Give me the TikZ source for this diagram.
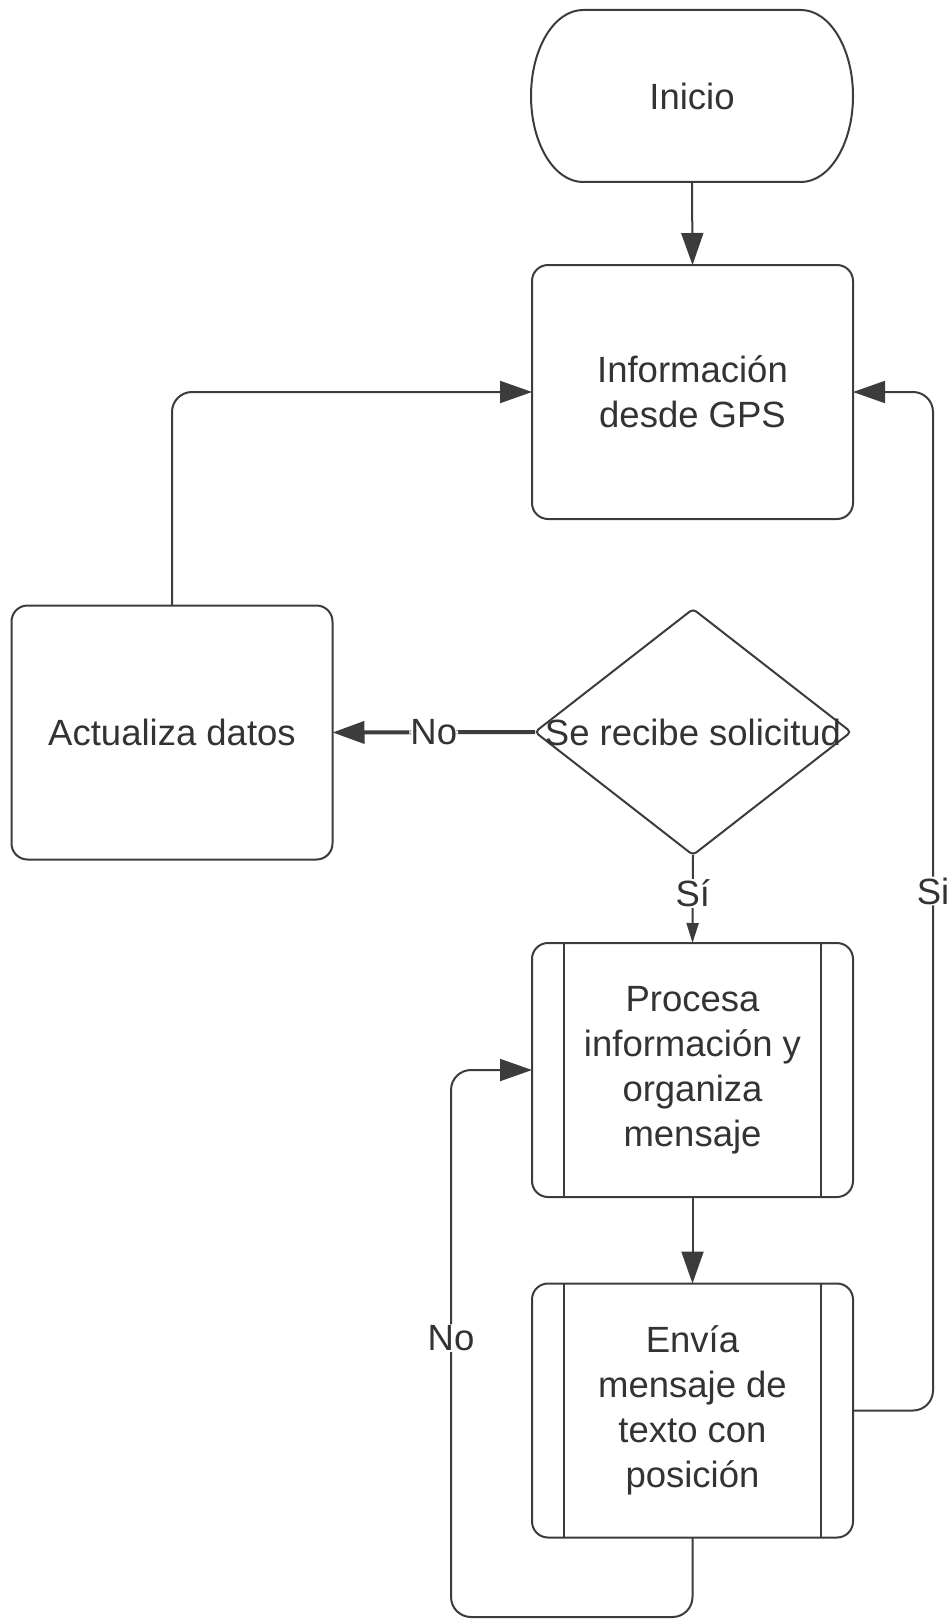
\documentclass[tikz,border=0pt]{standalone}
\usepackage{fontspec}
\setmainfont{Liberation Sans}
\usetikzlibrary{arrows.meta,shapes.geometric}
\definecolor{ink}{HTML}{333333}
\definecolor{edge}{HTML}{3C3C3C}

\begin{document}
\begin{tikzpicture}[x=1pt,y=-1pt,
  every node/.style={text=ink, font=\fontsize{36.5}{45}\selectfont},
  line/.style={draw=edge, line width=2pt},
  box/.style={line, rounded corners=16pt, minimum width=321pt, minimum height=254pt,
    align=center, inner sep=0pt, outer sep=0pt},
  decision/.style={line, diamond, rounded corners=4pt, minimum width=316pt,
    minimum height=246pt, inner sep=0pt, outer sep=0pt},
  conn/.style={line, rounded corners=20pt, -{Triangle[length=32pt,width=22pt]}},
  thin tip/.style={line, -{Triangle[length=20pt,width=12pt]}},
  lab/.style={fill=white, inner sep=1pt}
]
\useasboundingbox (0,0) rectangle (952,1621);

% terminal: rounded ends drawn by hand
\node[minimum width=322pt, minimum height=172pt, inner sep=0pt, outer sep=0pt] (start) at (692,96) {Inicio};
\draw[line] ([xshift=52pt]start.north west) -- ([xshift=-52pt]start.north east)
  arc[start angle=90, end angle=-90, x radius=52pt, y radius=86pt]
  -- ([xshift=52pt]start.south west)
  arc[start angle=270, end angle=90, x radius=52pt, y radius=86pt] -- cycle;

\node[box] (info) at (692.5,392) {Información\\desde GPS};
\node[box] (upd) at (172,732.5) {Actualiza datos};
\node[decision] (dec) at (693,732) {\makebox[0pt]{Se recibe solicitud}};
\node[box] (proc) at (692.5,1070) {Procesa\\información y\\organiza\\mensaje};
\node[box] (send) at (692.5,1410.5) {Envía\\mensaje de\\texto con\\posición};

% subprocess side bars
\foreach \b in {proc,send} {
  \draw[line] ([xshift=32pt]\b.north west) -- ([xshift=32pt]\b.south west);
  \draw[line] ([xshift=-32pt]\b.north east) -- ([xshift=-32pt]\b.south east);
}

% loop corners
\coordinate (rtop) at (933,392);
\coordinate (rbot) at (933,1410.5);
\coordinate (lbot) at (451,1617);
\coordinate (ltop) at (451,1070);
\coordinate (mbot) at (692.5,1617);

\draw[conn] (start.south) -- (info.north);
\draw[conn] (upd.north) |- (info.west);
\draw[conn, line width=4pt] (dec.west) -- node[lab, pos=0.5] {No} (upd.east);
\draw[thin tip] (dec.south) -- node[lab, pos=0.44] {Sí} (proc.north);
\draw[conn] (proc.south) -- (send.north);
\draw[conn] (send.east) -- (rbot) -- node[lab, pos=0.51] {Si} (rtop) -- (info.east);
\draw[conn] (send.south) -- (mbot) -- (lbot) -- node[lab, pos=0.51] {No} (ltop) -- (proc.west);
\end{tikzpicture}
\end{document}
